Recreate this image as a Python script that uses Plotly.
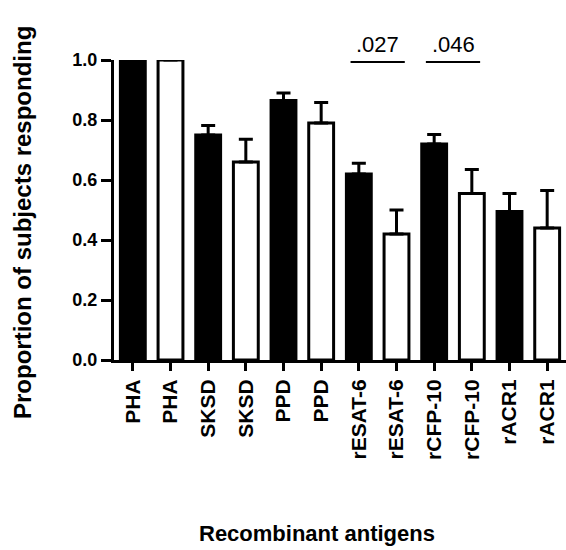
import plotly.graph_objects as go

labels = ["PHA", "PHA", "SKSD", "SKSD", "PPD", "PPD",
          "rESAT-6", "rESAT-6", "rCFP-10", "rCFP-10", "rACR1", "rACR1"]
values = [1.0, 1.0, 0.75, 0.66, 0.865, 0.79, 0.62, 0.42, 0.72, 0.555, 0.495, 0.44]
errors = [0.0, 0.0, 0.032, 0.076, 0.025, 0.068, 0.036, 0.08, 0.032, 0.08, 0.06, 0.125]
groups = ["filled", "open"] * 6
sig_pairs = [(6, 7), (8, 9)]
sig_labels = [".027", ".046"]

FONT = "Liberation Sans"
fill_map = {"filled": "black", "open": "white"}
xpos = list(range(len(labels)))

fig = go.Figure()
fig.add_trace(go.Bar(
    x=xpos, y=values, width=0.66,
    marker=dict(color=[fill_map[g] for g in groups],
                line=dict(color="black", width=3)),
    error_y=dict(type="data", symmetric=False, array=errors,
                 arrayminus=[0] * len(errors), color="black",
                 thickness=3, width=7),
    cliponaxis=False, showlegend=False,
))

for (a, b), txt in zip(sig_pairs, sig_labels):
    mid = (a + b) / 2
    fig.add_shape(type="line", xref="x", yref="y",
                  x0=mid - 0.72, x1=mid + 0.72, y0=0.993, y1=0.993,
                  line=dict(color="black", width=2))
    fig.add_annotation(x=mid, y=0.993, xref="x", yref="y", text=txt,
                       showarrow=False, yanchor="bottom", yshift=3,
                       font=dict(family=FONT, size=22, color="black"))

fig.add_annotation(xref="paper", yref="paper", x=(22 - 114) / 452, y=(360 - 223) / 300,
                   text="Proportion of subjects responding", textangle=-90,
                   showarrow=False, xanchor="center", yanchor="middle",
                   font=dict(family=FONT, size=24, color="black", weight="bold"))
fig.add_annotation(xref="paper", yref="paper", x=(317 - 114) / 452, y=(360 - 533) / 300,
                   text="Recombinant antigens",
                   showarrow=False, xanchor="center", yanchor="middle",
                   font=dict(family=FONT, size=22, color="black", weight="bold"))

fig.update_layout(
    width=566, height=550,
    margin=dict(l=114, r=0, t=60, b=190),
    plot_bgcolor="white", paper_bgcolor="white",
    bargap=0.3,
    xaxis=dict(range=[-0.5, 11.5], tickvals=xpos, ticktext=labels,
               tickangle=-90, ticks="outside", ticklen=8, tickwidth=3,
               tickcolor="black", showline=True, linewidth=3, linecolor="black",
               showgrid=False, zeroline=False,
               tickfont=dict(family=FONT, size=21, color="black", weight="bold")),
    yaxis=dict(range=[0, 1.0], tickvals=[0, 0.2, 0.4, 0.6, 0.8, 1.0],
               ticktext=["0.0", "0.2", "0.4", "0.6", "0.8", "1.0"],
               ticks="outside", ticklen=10, tickwidth=3, tickcolor="black",
               showline=True, linewidth=3, linecolor="black",
               showgrid=False, zeroline=False,
               tickfont=dict(family=FONT, size=18, color="black", weight="bold")),
)

fig.write_html("out.html")
